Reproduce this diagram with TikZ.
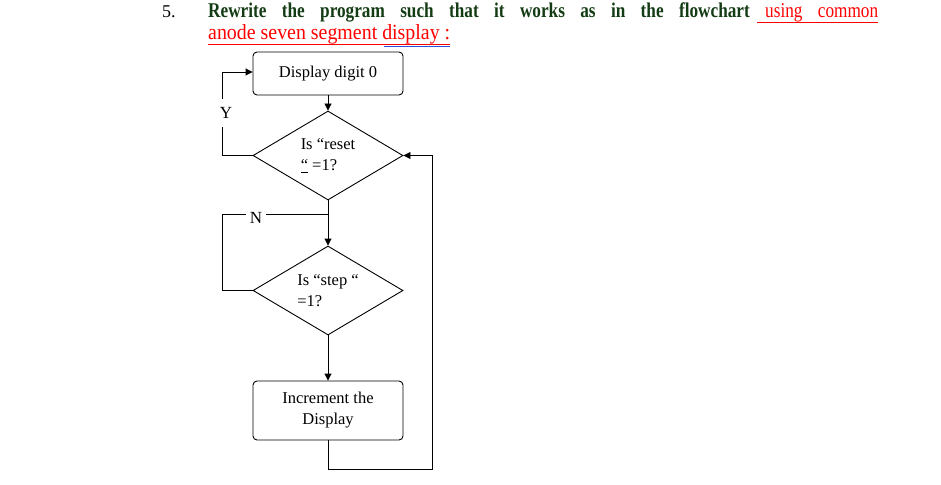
\documentclass[tikz,border=0pt]{standalone}
\usepackage{fontspec}
\setmainfont{Liberation Serif}
\usepackage{xcolor}
\usetikzlibrary{positioning,shapes,arrows.meta}
\definecolor{titlegreen}{RGB}{20,60,20}
\definecolor{wordblue}{RGB}{40,80,220}
\begin{document}
\begin{tikzpicture}[x=1pt,y=-1pt,
  box/.style={draw,line width=0.9pt,rounded corners=4pt,minimum width=150pt,inner sep=0pt,align=center,font=\fontsize{16.5}{21}\selectfont},
  decision/.style={draw,line width=0.9pt,diamond,minimum width=150pt,minimum height=89pt,aspect=1.68,inner sep=0pt,align=left,font=\fontsize{16.5}{21}\selectfont},
  line/.style={draw,line width=0.9pt},
  arrow/.style={line,-{Triangle[length=7pt,width=7pt]}},
  lbl/.style={fill=white,inner sep=4pt,minimum height=28pt,font=\fontsize{17}{17}\selectfont},
  heading/.style={anchor=base west,inner sep=0pt,font=\fontsize{21}{21}\selectfont}]
\useasboundingbox (0,0) rectangle (941,484);
% title
\node[heading,font=\fontsize{18}{18}\selectfont] (num) at (162,18) {5.};
\node[heading] (line1) at (208,18)
  {\scalebox{0.82}[1]{\makebox[817pt][s]{\textcolor{titlegreen}{\bfseries Rewrite the program such that it works as in the flowchart} \textcolor{red}{using common}}}};
\node[heading,text=red] (line2) at (208,40) {\resizebox{242pt}{15pt}{anode seven segment display :}};
\draw[red,line width=0.8pt] (757,22) -- (878,22);
\draw[red,line width=0.8pt] (208,44.5) -- (450,44.5);
\draw[wordblue,line width=0.8pt] (384,46.5) -- (450,46.5);
% flowchart
\node[box,minimum height=43pt] (show) at (328,73.5) {Display digit 0};
\node[decision] (reset) at (328,155.5) {Is “reset\\\underline{“} =1?};
\node[decision] (step) at (328,290.5) {Is “step “\\=1?};
\node[box,minimum height=59pt] (incr) at (328,410.5) {Increment the\\Display};
\coordinate (yturn) at (222,155.5);
\coordinate (ytop) at (222,72);
\coordinate (nsplit) at (328,214);
\coordinate (nturn) at (222,214);
\coordinate (nbot) at (222,290.5);
\coordinate (lowl) at (328,469);
\coordinate (lowr) at (432,469);
\coordinate (upr) at (432,155.5);
\draw[arrow] (show) -- (reset);
\draw[arrow] (reset.west) -- (yturn) -- (ytop) -- (show.west |- ytop);
\node[lbl] (yes) at (226,113) {Y};
\draw[arrow] (reset.south) -- (step.north);
\draw[line] (nsplit) -- (nturn) -- (nbot) -- (step.west);
\node[lbl,minimum height=0pt] (no) at (256,218) {N};
\draw[arrow] (step.south) -- (incr.north);
\draw[arrow] (incr.south) -- (lowl) -- (lowr) -- (upr) -- (reset.east);
\end{tikzpicture}
\end{document}
